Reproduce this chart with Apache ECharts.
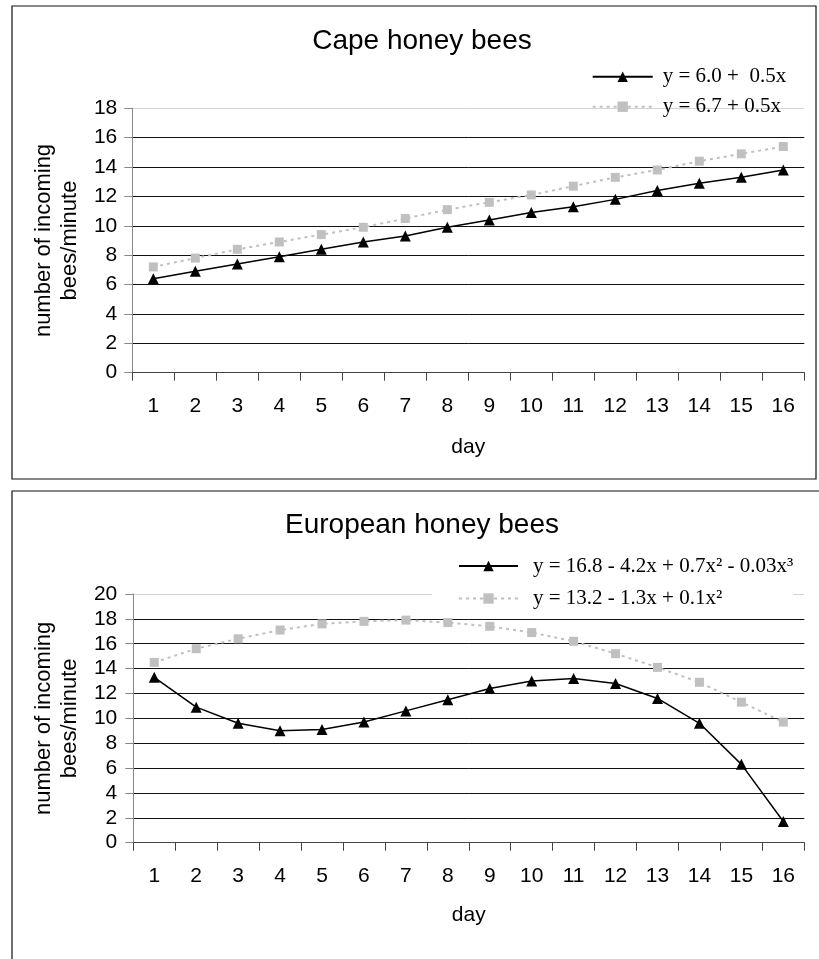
<!DOCTYPE html>
<html>
<head>
<meta charset="utf-8">
<script src="https://cdn.jsdelivr.net/npm/echarts@6/dist/echarts.min.js"></script>
<style>
html,body{margin:0;padding:0;background:#fff;}
#c{width:819px;height:959px;}
</style>
</head>
<body>
<div id="c"></div>
<script>
const days = ['1','2','3','4','5','6','7','8','9','10','11','12','13','14','15','16'];
const capeYTicks = [0, 18, 2];
const euroYTicks = [0, 20, 2];

const capeName1 = 'y = 6.0 +  0.5x';
const capeName2 = 'y = 6.7 + 0.5x';
const capeSeries1 = [6.4, 6.9, 7.4, 7.9, 8.4, 8.9, 9.3, 9.9, 10.4, 10.9, 11.3, 11.8, 12.4, 12.9, 13.3, 13.8];
const capeSeries2 = [7.2, 7.8, 8.4, 8.9, 9.4, 9.9, 10.5, 11.1, 11.6, 12.1, 12.7, 13.3, 13.8, 14.4, 14.9, 15.4];

const euroName1 = 'y = 16.8 - 4.2x + 0.7x\u00B2 - 0.03x\u00B3';
const euroName2 = 'y = 13.2 - 1.3x + 0.1x\u00B2';
const euroSeries1 = [13.3, 10.9, 9.6, 9.0, 9.1, 9.7, 10.6, 11.5, 12.4, 13.0, 13.2, 12.8, 11.6, 9.6, 6.3, 1.7];
const euroSeries2 = [14.5, 15.6, 16.4, 17.1, 17.6, 17.8, 17.9, 17.7, 17.4, 16.9, 16.2, 15.2, 14.1, 12.9, 11.3, 9.7];

const SANS = 'Liberation Sans, Arial, sans-serif';
const SERIF = 'Liberation Serif, Times New Roman, serif';

function gridColors(n) {
  const arr = [];
  for (let i = 0; i < n; i++) arr.push(i === n - 1 ? '#d4d4d4' : '#111');
  return arr;
}

function xAxisFor(gridIndex) {
  return {
    type: 'category', gridIndex: gridIndex, data: days, boundaryGap: true,
    name: 'day', nameLocation: 'middle', nameGap: 64,
    nameTextStyle: {fontFamily: SANS, fontSize: 21, color: '#000'},
    axisLine: {lineStyle: {color: '#444', width: 1}},
    axisTick: {show: true, length: 8, alignWithLabel: false, lineStyle: {color: '#444'}},
    axisLabel: {fontFamily: SANS, fontSize: 21, color: '#000', margin: 23, interval: 0},
    splitLine: {show: false}
  };
}

function yAxisFor(gridIndex, ticks, margin, gap) {
  const n = (ticks[1] - ticks[0]) / ticks[2] + 1;
  return {
    type: 'value', gridIndex: gridIndex, min: ticks[0], max: ticks[1], interval: ticks[2],
    name: 'number of incoming\nbees/minute', nameLocation: 'middle', nameGap: gap,
    nameTextStyle: {fontFamily: SANS, fontSize: 22, color: '#000', lineHeight: 26},
    axisLine: {show: true, lineStyle: {color: '#888', width: 1}},
    axisTick: {show: true, length: 8, lineStyle: {color: '#888'}},
    axisLabel: {fontFamily: SANS, fontSize: 21, color: '#000', margin: margin},
    splitLine: {show: true, lineStyle: {color: gridColors(n), width: 1}}
  };
}

function blackSeries(name, data, idx) {
  return {
    name: name, type: 'line', xAxisIndex: idx, yAxisIndex: idx, data: data,
    symbol: 'triangle', symbolSize: 11, showAllSymbol: true,
    lineStyle: {color: '#000', width: 1.5},
    itemStyle: {color: '#000', borderWidth: 0},
    z: 3
  };
}
function graySeries(name, data, idx) {
  return {
    name: name, type: 'line', xAxisIndex: idx, yAxisIndex: idx, data: data,
    symbol: 'rect', symbolSize: 9, showAllSymbol: true,
    lineStyle: {color: '#c0c0c0', width: 2, type: [3, 4]},
    itemStyle: {color: '#c0c0c0', borderWidth: 0},
    z: 2
  };
}

const chart = echarts.init(document.getElementById('c'), null, {renderer: 'canvas'});
chart.setOption({
  animation: false,
  backgroundColor: '#fff',
  title: [
    {text: 'Cape honey bees', left: 422, top: 27, textAlign: 'center', padding: 0,
     textStyle: {fontFamily: SANS, fontSize: 28, fontWeight: 'normal', color: '#000'}},
    {text: 'European honey bees', left: 422, top: 511, textAlign: 'center', padding: 0,
     textStyle: {fontFamily: SANS, fontSize: 28, fontWeight: 'normal', color: '#000'}}
  ],
  legend: [
    {data: [capeName1, capeName2], orient: 'vertical', left: 591.7, top: 65.7, padding: 0,
     itemWidth: 60, itemHeight: 13, itemGap: 8,
     textStyle: {fontFamily: SERIF, fontSize: 21, color: '#000', lineHeight: 22, padding: [0, 0, 0, 5]}},
    {data: [euroName1, euroName2], orient: 'vertical', left: 432, top: 553, padding: [2, 0, 2, 26],
     backgroundColor: '#fff',
     itemWidth: 59, itemHeight: 13, itemGap: 10.5,
     textStyle: {fontFamily: SERIF, fontSize: 21, color: '#000', lineHeight: 22, padding: [0, 0, 0, 10]}}
  ],
  grid: [
    {left: 132.3, top: 108.3, width: 672, height: 264.4, containLabel: false},
    {left: 133.3, top: 594, width: 671, height: 248.7, containLabel: false}
  ],
  xAxis: [xAxisFor(0), Object.assign(xAxisFor(1), {nameGap: 62})],
  yAxis: [yAxisFor(0, capeYTicks, 15, 49), yAxisFor(1, euroYTicks, 16, 50)],
  series: [
    blackSeries(capeName1, capeSeries1, 0),
    graySeries(capeName2, capeSeries2, 0),
    blackSeries(euroName1, euroSeries1, 1),
    graySeries(euroName2, euroSeries2, 1)
  ],
  graphic: [
    {type: 'rect', shape: {x: 12, y: 6, width: 804, height: 473}, style: {fill: 'none', stroke: '#111', lineWidth: 1.2}, silent: true},
    {type: 'rect', shape: {x: 12, y: 491, width: 830, height: 500}, style: {fill: 'none', stroke: '#111', lineWidth: 1.2}, silent: true}
  ]
});
</script>
</body>
</html>
